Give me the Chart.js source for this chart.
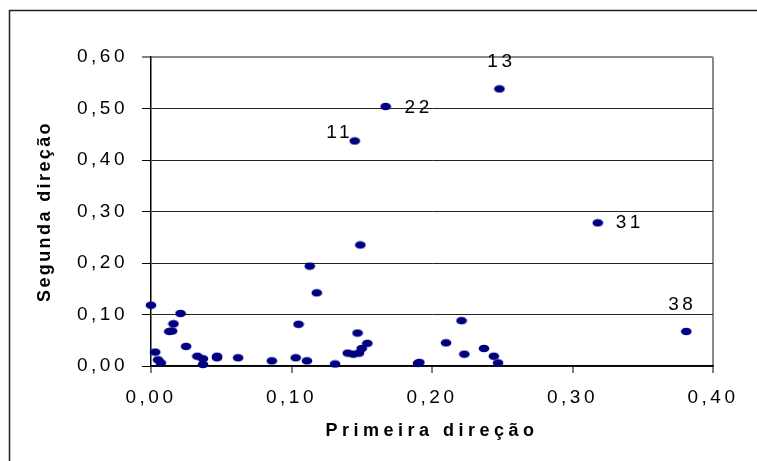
<!DOCTYPE html>
<html>
<head>
<meta charset="utf-8">
<script src="https://cdn.jsdelivr.net/npm/chart.js@4"></script>
<style>
  body { margin: 0; background: #fff; }
  #wrap { width: 757px; height: 461px; }
</style>
</head>
<body>
<div id="wrap"><canvas id="myCanvas"></canvas></div>
<script>
var primeira = [0.000, 0.003, 0.005, 0.007, 0.013, 0.015, 0.016, 0.021, 0.025, 0.033,
                0.037, 0.037, 0.047, 0.047, 0.062, 0.086, 0.103, 0.105, 0.111, 0.113,
                0.118, 0.131, 0.140, 0.144, 0.148, 0.150, 0.147, 0.154, 0.149, 0.145,
                0.167, 0.190, 0.191, 0.210, 0.221, 0.223, 0.237, 0.244, 0.247, 0.248,
                0.318, 0.381]
var segunda  = [0.118, 0.027, 0.012, 0.006, 0.067, 0.068, 0.082, 0.102, 0.038, 0.019,
                0.014, 0.003, 0.019, 0.016, 0.016, 0.010, 0.016, 0.081, 0.010, 0.194,
                0.142, 0.004, 0.025, 0.023, 0.025, 0.034, 0.064, 0.044, 0.235, 0.437,
                0.504, 0.005, 0.007, 0.045, 0.088, 0.023, 0.034, 0.019, 0.006, 0.538,
                0.278, 0.067]
var rotulos  = ['', '', '', '', '', '', '', '', '', '',
                '', '', '', '', '', '', '', '', '', '',
                '', '', '', '', '', '', '', '', '', '11',
                '22', '', '', '', '', '', '', '', '', '13',
                '31', '38']

// label offsets in px (style only)
var offsets = { '11': [-17, -8], '22': [31, 1], '13': [0, -27], '31': [30, 0], '38': [-6, -27] }

var points = primeira.map(function (x, i) { return { x: x, y: segunda[i] } })

// elliptical marker
var dot = document.createElement('canvas')
dot.width = 12; dot.height = 9
var dc = dot.getContext('2d')
dc.fillStyle = '#000080'
dc.beginPath()
dc.ellipse(6, 4.5, 5.3, 3.8, 0, 0, Math.PI * 2)
dc.fill()

function fmt(v) { return (Math.round(v * 100) / 100).toFixed(2).replace('.', ',') }

var FONT = '"Liberation Sans", Arial, sans-serif'

var framePlugin = {
    id: 'frame',
    beforeDraw: function (chart) {
        var c = chart.ctx
        c.save()
        c.strokeStyle = '#222'
        c.lineWidth = 1.5
        c.strokeRect(9.5, 10.5, 900, 600)
        c.restore()
        c.letterSpacing = '3.5px'
    },
    afterLayout: function (chart) {
        ['x', 'y'].forEach(function (id) {
            var s = chart.scales[id]
            if (s._wrapped) return
            var orig = s.drawTitle
            s.drawTitle = function () {
                var c = chart.ctx
                var old = c.letterSpacing
                c.letterSpacing = id === 'x' ? '4.5px' : '2.4px'
                orig.apply(this, arguments)
                c.letterSpacing = old
            }
            s._wrapped = true
        })
    },
    afterDatasetsDraw: function (chart) {
        var c = chart.ctx
        var xs = chart.scales.x, ys = chart.scales.y
        c.save()
        c.letterSpacing = '3.5px'
        c.font = '19px ' + FONT
        c.fillStyle = '#000'
        c.textAlign = 'center'
        c.textBaseline = 'middle'
        rotulos.forEach(function (r, i) {
            if (!r) return
            var o = offsets[r]
            c.fillText(r, xs.getPixelForValue(primeira[i]) + o[0] + 2, ys.getPixelForValue(segunda[i]) + o[1])
        })
        c.restore()
        c.letterSpacing = '0px'
    }
}

var ctx = document.getElementById('myCanvas')
var myChart = new Chart(ctx, {
    type: 'scatter',
    data: {
        datasets: [{
            data: points,
            pointStyle: dot,
            pointRadius: 5,
            pointHoverRadius: 5,
            clip: false
        }]
    },
    options: {
        responsive: true,
        maintainAspectRatio: false,
        animation: false,
        events: [],
        layout: { padding: { left: 30, right: 44, top: 57, bottom: 0 } },
        plugins: { legend: { display: false }, tooltip: { enabled: false } },
        scales: {
            x: {
                type: 'linear',
                min: 0, max: 0.4,
                afterFit: function (s) { s.height = 95 },
                ticks: {
                    stepSize: 0.1,
                    color: '#000',
                    padding: 13,
                    font: { family: FONT, size: 19 },
                    callback: fmt,
                    maxRotation: 0
                },
                grid: {
                    drawOnChartArea: true,
                    color: function (c) { return c.tick && Math.abs(c.tick.value - 0.4) < 1e-6 ? '#8a8a8a' : 'rgba(0,0,0,0)' },
                    lineWidth: 2,
                    tickColor: '#000',
                    tickLength: 7,
                    tickWidth: 1
                },
                border: { color: '#000', width: 1.5 },
                title: {
                    display: true,
                    text: 'Primeira direção',
                    color: '#000',
                    padding: { top: 19, bottom: 19 },
                    font: { family: FONT, size: 18, weight: 'bold' }
                }
            },
            y: {
                type: 'linear',
                min: 0, max: 0.6,
                afterFit: function (s) { s.width = 121 },
                ticks: {
                    stepSize: 0.1,
                    color: '#000',
                    padding: 14,
                    font: { family: FONT, size: 19 },
                    callback: fmt
                },
                grid: {
                    color: function (c) { return c.tick && Math.abs(c.tick.value - 0.6) < 1e-6 ? '#8a8a8a' : '#222' },
                    lineWidth: function (c) { return c.tick && Math.abs(c.tick.value - 0.6) < 1e-6 ? 2 : 1 },
                    tickColor: '#000',
                    tickLength: 9,
                    tickWidth: 1
                },
                border: { color: '#000', width: 1.5 },
                title: {
                    display: true,
                    text: 'Segunda direção',
                    color: '#000',
                    padding: { top: 4, bottom: 4 },
                    font: { family: FONT, size: 18, weight: 'bold' }
                }
            }
        }
    },
    plugins: [framePlugin]
});
</script>
</body>
</html>
